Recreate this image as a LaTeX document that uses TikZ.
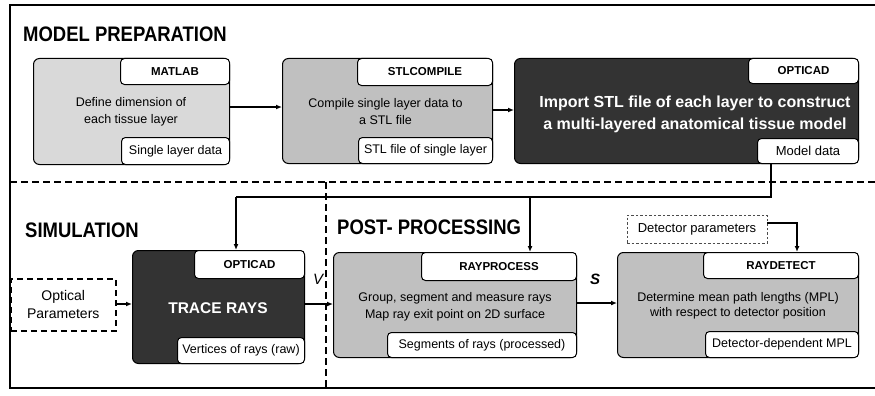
\documentclass[tikz,border=0pt]{standalone}
\usepackage{fontspec}
\setmainfont{Liberation Sans}
\newfontfamily\headfont[FakeStretch=0.88]{Liberation Sans}
\usetikzlibrary{arrows.meta}
\definecolor{lightg}{HTML}{D9D9D9}
\definecolor{midg}{HTML}{C0C0C0}
\definecolor{darkg}{HTML}{333333}
\begin{document}
\begin{tikzpicture}[x=1pt,y=-1pt,
 box/.style={draw=black, line width=1pt, rounded corners=6pt, inner sep=0pt, anchor=north west},
 tagbox/.style={draw=black, fill=white, line width=1pt, rounded corners=4pt, inner sep=0pt, font=\fontsize{12.5}{14}\selectfont},
 tagcap/.style={tagbox, font=\fontsize{11.5}{14}\selectfont\bfseries},
 body/.style={align=center, font=\fontsize{12.5}{17}\selectfont, inner sep=0pt},
 bodyw/.style={align=center, text=white, font=\fontsize{16}{22}\selectfont\bfseries, inner sep=0pt},
 head/.style={anchor=base west, inner sep=0pt, font=\headfont\fontsize{21}{24}\selectfont\bfseries},
 arr/.style={line width=1.5pt, -{Latex[length=6pt,width=5pt]}},
 conn/.style={line width=1.5pt},
 frame/.style={line width=1.5pt},
 sep/.style={line width=1.5pt, dash pattern=on 7pt off 4pt},
 ptext/.style={align=center, font=\fontsize{14}{18}\selectfont, inner sep=0pt},
]
\useasboundingbox (0,0) rectangle (875,396);

% frame and separators
\draw[frame] (876,5) -- (10,5) -- (10,388) -- (876,388);
\draw[sep] (10,182) -- (875,182);
\draw[sep] (326,182) -- (326,388);

% headings
\node[head] (hmp) at (23,42) {MODEL PREPARATION};
\node[head] (hsim) at (25,237) {SIMULATION};
\node[head] (hpp) at (337,234) {POST- PROCESSING};

% ---- model preparation boxes
\node[box, fill=lightg, minimum width=196pt, minimum height=106pt] (b1) at (33,58) {};
\node[tagcap, minimum width=109pt, minimum height=26pt, anchor=north east] (b1a) at (b1.north east) {MATLAB};
\node[tagbox, minimum width=108pt, minimum height=27pt, anchor=south east] (b1b) at (b1.south east) {Single layer data};
\node[body] (b1t) at (131,111.5) {Define dimension of\\each tissue layer};

\node[box, fill=midg, minimum width=210pt, minimum height=105pt] (b2) at (282,58) {};
\node[tagcap, minimum width=135pt, minimum height=27pt, anchor=north east] (b2a) at (b2.north east) {STLCOMPILE};
\node[tagbox, minimum width=134pt, minimum height=26pt, anchor=south east] (b2b) at (b2.south east) {STL file of single layer};
\node[body] (b2t) at (385.5,111.5) {Compile single layer data to\\a STL file};

\node[box, fill=darkg, minimum width=344pt, minimum height=105pt] (b3) at (514,58) {};
\node[tagcap, minimum width=110pt, minimum height=25pt, anchor=north east] (b3a) at (b3.north east) {OPTICAD};
\node[tagbox, font=\fontsize{13}{14}\selectfont, minimum width=101pt, minimum height=25pt, anchor=south east] (b3b) at (b3.south east) {Model data};
\node[bodyw] (b3t) at (695,114) {Import STL file of each layer to construct\\a multi-layered anatomical tissue model};

\draw[arr] (b1.east |- 0,107) -- (b2.west |- 0,107);
\draw[arr] (b2.east |- 0,110) -- (b3.west |- 0,110);

% ---- simulation
\node[ptext, draw=black, line width=1.5pt, dash pattern=on 6pt off 4pt, minimum width=105pt, minimum height=52pt, anchor=north west] (op) at (10,278) {Optical\\Parameters};

\node[box, fill=darkg, minimum width=172pt, minimum height=113pt] (tr) at (132,250) {};
\node[tagcap, minimum width=110pt, minimum height=28pt, anchor=north east] (tra) at (tr.north east) {OPTICAD};
\node[tagbox, minimum width=127pt, minimum height=26pt, anchor=south east] (trb) at (tr.south east) {Vertices of rays (raw)};
\node[bodyw, font=\fontsize{15.5}{18}\selectfont\bfseries] (trt) at (218,308) {TRACE RAYS};

% ---- post-processing
\node[box, fill=midg, minimum width=243pt, minimum height=105pt] (rp) at (333,252) {};
\node[tagcap, minimum width=155pt, minimum height=28pt, anchor=north east] (rpa) at (rp.north east) {RAYPROCESS};
\node[tagbox, minimum width=189pt, minimum height=25pt, anchor=south east] (rpb) at (rp.south east) {Segments of rays (processed)};
\node[body] (rpt) at (455,306.5) {Group, segment and measure rays\\Map ray exit point on 2D surface};

\node[box, fill=midg, minimum width=241pt, minimum height=105pt] (rd) at (617,252) {};
\node[tagcap, minimum width=155pt, minimum height=26pt, anchor=north east] (rda) at (rd.north east) {RAYDETECT};
\node[tagbox, minimum width=153pt, minimum height=26pt, anchor=south east] (rdb) at (rd.south east) {Detector-dependent MPL};
\node[body, font=\fontsize{12.5}{15}\selectfont] (rdt) at (738,305.5) {Determine mean path lengths (MPL)\\with respect to detector position};

\node[draw=black!70, line width=0.8pt, dash pattern=on 2.5pt off 2pt, font=\fontsize{13}{14}\selectfont, minimum width=140pt, minimum height=28pt, inner sep=0pt] (dp) at (697,229) {Detector parameters};

% labels
\node[font=\fontsize{15}{15}\selectfont\itshape, inner sep=0pt] (lv) at (318,279) {V};
\node[font=\fontsize{15}{15}\selectfont\bfseries\itshape, inner sep=0pt] (ls) at (595,279) {S};

% connectors
\coordinate (j1) at (771,197);
\coordinate (j2) at (530,197);
\coordinate (j3) at (236,197);
\coordinate (d1) at (797,223);
\draw[conn] (b3b.south -| j1) -- (j1) -- (j3);
\draw[arr] (j3) -- (j3 |- tra.north);
\draw[arr] (j2) -- (j2 |- rpa.north);
\draw[arr] (op.east |- 0,304) -- (tr.west |- 0,304);
\draw[arr] (tr.east |- 0,304) -- (rp.west |- 0,304);
\draw[arr] (rp.east |- 0,303) -- (rd.west |- 0,303);
\draw[arr] (dp.east |- d1) -- (d1) -- (d1 |- rda.north);
\end{tikzpicture}
\end{document}
